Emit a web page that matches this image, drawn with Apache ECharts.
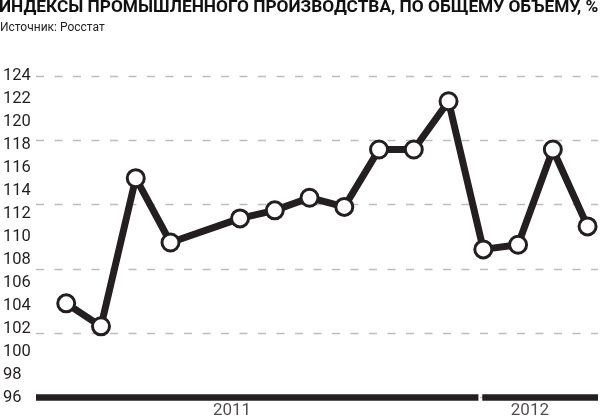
<!DOCTYPE html>
<html>
<head>
<meta charset="utf-8">
<script src="https://cdn.jsdelivr.net/npm/echarts@6/dist/echarts.min.js"></script>
<style>
html,body{margin:0;padding:0;background:#fff;}
#c{width:600px;height:419px;}
</style>
</head>
<body>
<div id="c"></div>
<script>
var months = ['01.2011','02.2011','03.2011','04.2011','05.2011','06.2011','07.2011','08.2011','09.2011','10.2011','11.2011','12.2011','01.2012','02.2012','03.2012','04.2012'];
var values = [104.2, 102.2, 115.1, 109.5, null, 111.6, 112.3, 113.4, 112.6, 117.6, 117.6, 121.8, 108.9, 109.3, 117.6, 110.9];
var yTicks = [96, 98, 100, 102, 104, 106, 108, 110, 112, 114, 116, 118, 120, 122, 124];
var years = ['2011', '2012'];
var yearSpans = [[-0.87, 11.86], [11.97, 15.3]];
var yearLabelAt = [4.77, 13.34];

var lineData = [];
values.forEach(function (v, i) { if (v !== null) lineData.push([i, v]); });

var yMin = yTicks[0], yMax = yTicks[yTicks.length - 1];
var xMin = yearSpans[0][0], xMax = yearSpans[1][1];

var series = [];
yearSpans.forEach(function (s, k) {
  series.push({
    type: 'line', data: [[s[0], yMin], [s[1], yMin]], clip: false, silent: true,
    symbol: 'none', lineStyle: { color: '#231f20', width: 6.5, cap: 'butt' }, z: 3
  });
  series.push({
    type: 'scatter', data: [[yearLabelAt[k], yMin]], symbolSize: 0, clip: false, silent: true,
    label: { show: true, position: 'bottom', distance: 5, formatter: years[k],
      fontFamily: 'Roboto', fontSize: 17, color: '#231f20' }
  });
});
series.push({
  type: 'line', data: lineData, z: 5,
  symbol: 'circle', symbolSize: 17,
  lineStyle: { color: '#231f20', width: 7, join: 'round' },
  itemStyle: { color: '#fff', borderColor: '#231f20', borderWidth: 3 }
});

var chart = echarts.init(document.getElementById('c'), null, { renderer: 'canvas' });
chart.setOption({
  animation: false,
  backgroundColor: '#fff',
  title: [{
    text: 'ИНДЕКСЫ ПРОМЫШЛЕННОГО ПРОИЗВОДСТВА, ПО ОБЩЕМУ ОБЪЕМУ, %',
    left: -1, top: -1, padding: 0,
    textStyle: { fontFamily: 'Roboto', fontWeight: 'bold', fontSize: 17.3, color: '#111' }
  }, {
    text: 'Источник: Росстат',
    left: 0, top: 22, padding: 0,
    textStyle: { fontFamily: 'Roboto', fontWeight: 'normal', fontSize: 12, color: '#222' }
  }],
  grid: { left: 33, right: 2, top: 76, bottom: 21.5 },
  xAxis: {
    type: 'value', min: xMin, max: xMax, show: false
  },
  yAxis: [{
    type: 'value', min: yMin, max: yMax, interval: 2,
    axisLine: { show: false }, axisTick: { show: false }, splitLine: { show: false },
    axisLabel: { align: 'left', margin: 33, fontFamily: 'Roboto', fontSize: 16.5, color: '#231f20', verticalAlign: 'middle', padding: [4, 0, 0, 0] }
  }, {
    type: 'value', min: 0, max: 5, interval: 1, position: 'left',
    axisLine: { show: false }, axisTick: { show: false }, axisLabel: { show: false },
    splitLine: { show: true, lineStyle: { color: '#bdbdbd', width: 1.3, type: [8, 10.5] } }
  }],
  series: series
});
</script>
</body>
</html>
